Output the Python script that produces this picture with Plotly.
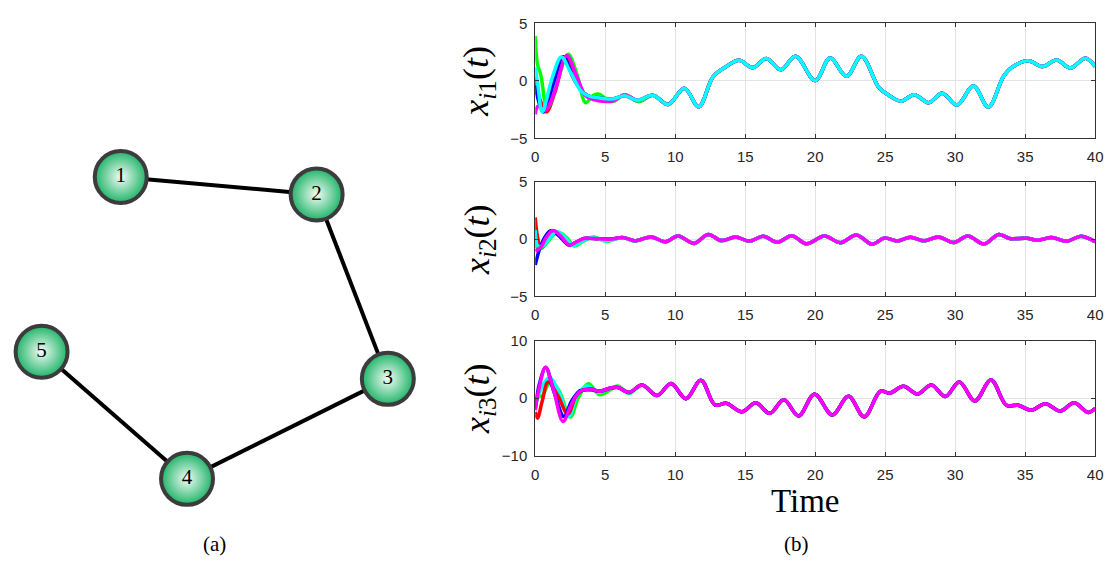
import plotly.graph_objects as go

# ---------------- network topology (panel a) ----------------
node_ids = ["1", "2", "3", "4", "5"]
node_x = [118, 316, 388, 185, 38]
node_y = [173, 191, 381, 484, 353]
edges = [(0, 1), (1, 2), (2, 3), (3, 4)]

# ---------------- state trajectories (panel b) ----------------
colors = {"red": "#ff0000", "green": "#00ff00", "blue": "#0000ff",
          "magenta": "#ff00ff", "cyan": "#00ffff"}

# x_i1 : transient part of each node
x1_head = {
    "red":     ([0, 0.3, 0.8, 1.4, 2.2, 2.9, 3.5, 4.1, 5.5, 6.4, 7.4],
                [0.3, -1.5, -2.7, -1.0, 2.1, 0.4, -1.1, -1.5, -1.75, -1.2, -1.8]),
    "green":   ([0, 0.15, 0.4, 0.85, 1.5, 2.35, 3.0, 3.6, 4.1, 4.5, 5.5, 6.4, 7.4],
                [3.9, 1.5, 0.5, -2.4, -0.4, 2.3, 0.5, -1.9, -1.3, -1.15, -1.8, -1.2, -1.8]),
    "blue":    ([0, 0.3, 0.6, 1.3, 2.0, 2.7, 3.4, 4.1],
                [-0.4, -2.0, -2.7, -0.2, 2.1, 0.3, -1.0, -1.45]),
    "magenta": ([0, 0.2, 0.7, 1.4, 2.25, 2.95, 3.6, 4.1, 5.5, 6.4],
                [-2.9, -2.2, -2.6, -0.9, 2.2, 0.4, -1.3, -1.6, -1.75, -1.22]),
    "cyan":    ([0, 0.2, 0.5, 1.2, 1.86, 2.5, 3.3, 3.9],
                [1.2, -0.5, -2.7, 0.2, 2.08, 0.8, -0.93, -1.35]),
}
# x_i1 : synchronised part
x1_tail_t = [4.45, 5.0, 5.6, 6.4, 7.3, 8.4, 9.5, 10.65, 11.68, 12.7, 13.6,
             14.56, 15.55, 16.5, 17.55, 18.6, 20.0, 21.06, 22.24, 23.3, 24.55,
             25.2, 26.13, 27.07, 28.1, 29.07, 30.13, 31.3, 32.37, 33.43, 34.0,
             35.2, 36.25, 37.24, 38.25, 39.3, 40.0]
x1_tail_y = [-1.45, -1.55, -1.55, -1.3, -1.7, -1.25, -2.05, -0.65, -2.25, 0.34,
             1.2, 1.78, 1.15, 1.95, 0.97, 2.13, 0.02, 1.98, 0.4, 2.13, -0.58,
             -1.2, -1.77, -1.2, -1.9, -1.07, -2.1, -0.45, -2.27, 0.34, 1.12,
             1.74, 1.24, 1.8, 1.12, 1.97, 1.26]

# x_i2 : transient part of each node
x2_head = {
    "red":     ([0, 0.15, 0.4, 0.8, 1.4, 1.9, 2.5, 3.1],
                [1.9, 0.3, -0.8, -0.3, 0.7, 0.2, -0.5, -0.2]),
    "green":   ([0, 0.2, 0.6, 1.6, 2.2, 2.8, 3.4, 4.2, 5.1, 5.8, 6.3],
                [0.4, -0.9, -0.6, 0.6, 0.2, -0.6, -0.2, 0.2, -0.2, 0.05, 0.14]),
    "blue":    ([0, 0.3, 0.7, 1.1, 1.7, 2.4, 3.0],
                [-2.25, -0.9, 0.2, 0.75, 0.3, -0.5, -0.2]),
    "cyan":    ([0, 0.2, 0.6, 1.5, 2.1, 2.7, 3.3, 4.1, 5.0, 5.8, 6.3],
                [0.8, -0.6, -0.5, 0.65, 0.2, -0.55, -0.2, 0.15, -0.15, 0.05, 0.14]),
    "magenta": ([0, 0.4, 0.8, 1.27, 1.8, 2.43, 3.0],
                [-1.05, -0.7, 0.2, 0.76, 0.3, -0.5, -0.2]),
}
x2_tail_t = [3.5, 4.5, 5.3, 6.3, 7.1, 8.3, 9.3, 10.2, 11.35, 12.35, 13.3, 14.3,
             15.3, 16.28, 17.3, 18.33, 19.37, 20.65, 21.8, 22.95, 24.05, 24.95,
             25.85, 26.8, 27.8, 28.8, 29.9, 30.9, 32.06, 33.1, 33.9, 35.1, 35.9,
             36.9, 37.95, 39.0, 40.0]
x2_tail_y = [0.06, 0.05, 0.0, 0.14, -0.14, 0.2, -0.23, 0.29, -0.37, 0.42, -0.12,
             0.2, -0.16, 0.25, -0.26, 0.3, -0.4, 0.28, -0.3, 0.38, -0.44, 0.1,
             -0.15, 0.17, -0.14, 0.2, -0.28, 0.28, -0.42, 0.42, 0.06, 0.08,
             -0.08, 0.14, -0.17, 0.25, -0.23]

# x_i3 : transient part of each node
x3_head = {
    "red":     ([0, 0.16, 0.5, 0.92, 1.6, 2.33, 2.9, 3.4, 4.0],
                [-2.4, -3.5, -0.5, 2.8, 0.5, -2.76, 0.3, 1.4, 1.4]),
    "green":   ([0, 0.25, 0.5, 1.1, 1.7, 2.5, 3.1, 3.8, 4.6, 5.4, 5.9, 6.7],
                [-1.5, 0.3, 0.4, 3.0, 1.3, -3.3, 0.2, 2.5, 0.6, 1.5, 2.1, 0.8]),
    "blue":    ([0, 0.3, 0.75, 1.35, 2.05, 2.6, 3.2],
                [-2.0, 2.5, 5.35, 1.0, -3.2, -0.5, 1.3]),
    "cyan":    ([0, 0.3, 1.0, 1.7, 2.4, 3.0, 3.7, 4.5, 5.3, 5.9, 6.7],
                [-1.8, 1.0, 3.6, 1.0, -3.2, 0.5, 2.1, 1.0, 1.7, 2.0, 0.9]),
    "magenta": ([0, 0.3, 0.73, 1.3, 1.98, 2.5, 2.85],
                [-2.1, 2.0, 5.4, 1.5, -4.06, -1.5, 0.17]),
}
x3_tail_t = [3.27, 3.97, 4.56, 5.4, 5.9, 6.7, 7.63, 8.7, 9.7, 10.77, 11.83,
             12.85, 13.64, 14.75, 15.76, 16.75, 17.76, 18.81, 19.95, 21.22,
             22.38, 23.5, 24.65, 25.35, 26.3, 27.3, 28.3, 29.3, 30.3, 31.4,
             32.56, 33.66, 34.5, 35.43, 36.44, 37.5, 38.5, 39.5, 40.0]
x3_tail_y = [1.3, 1.6, 1.2, 1.75, 1.86, 1.0, 2.3, 0.45, 2.53, -0.1, 3.12, -1.2,
             -0.9, -2.37, -0.8, -2.65, -0.28, -3.1, 0.68, -2.92, 0.31, -3.25,
             1.18, 0.9, 2.05, 0.73, 2.3, 0.28, 2.82, -0.5, 3.15, -1.24, -1.24,
             -2.1, -0.96, -2.25, -0.8, -2.48, -1.8]

panels = [
    ("x", "y", x1_head, x1_tail_t, x1_tail_y, ["red", "green", "blue", "magenta", "cyan"]),
    ("x2", "y2", x2_head, x2_tail_t, x2_tail_y, ["red", "green", "blue", "cyan", "magenta"]),
    ("x3", "y3", x3_head, x3_tail_t, x3_tail_y, ["green", "cyan", "red", "blue", "magenta"]),
]

fig = go.Figure()

for xa, ya, head, tail_t, tail_y, order in panels:
    for name in order:
        ht, hy = head[name]
        # join the node's own transient to the common trajectory
        t = list(ht) + [v for v in tail_t if v > ht[-1]]
        y = list(hy) + [tail_y[i] for i, v in enumerate(tail_t) if v > ht[-1]]
        fig.add_trace(go.Scatter(
            x=t, y=y, mode="lines", xaxis=xa, yaxis=ya,
            line=dict(color=colors[name], width=3.5, shape="spline", smoothing=1.0),
            showlegend=False, hoverinfo="skip"))

# network edges
for a, b in edges:
    fig.add_trace(go.Scatter(
        x=[node_x[a], node_x[b]], y=[node_y[a], node_y[b]], mode="lines",
        xaxis="x4", yaxis="y4", line=dict(color="black", width=4),
        showlegend=False, hoverinfo="skip"))

# network nodes
fig.add_trace(go.Scatter(
    x=node_x, y=node_y, mode="markers+text", xaxis="x4", yaxis="y4",
    text=node_ids, textposition="middle center",
    textfont=dict(family="Liberation Serif", size=21, color="black"),
    marker=dict(size=52, color="#1fb468",
                gradient=dict(type="radial", color="#f2fcf5"),
                line=dict(color="#3c3c3c", width=4)),
    showlegend=False, hoverinfo="skip"))

xdom = [0.47946, 0.98482]
ydoms = [[0.77096, 0.97474], [0.49141, 0.69364], [0.20962, 0.41289]]
yranges = [[-5, 5], [-5, 5], [-10, 10]]
ydticks = [5, 5, 10]

axis_common = dict(
    showline=True, linecolor="#333333", linewidth=1, mirror="ticks",
    ticks="inside", ticklen=4, tickcolor="#333333",
    showgrid=True, gridcolor="#e3e3e3", gridwidth=1, zeroline=False,
    tickfont=dict(family="Liberation Sans", size=15, color="#262626"),
)

layout = dict(
    width=1120, height=582, margin=dict(l=0, r=0, t=0, b=0),
    paper_bgcolor="white", plot_bgcolor="white", showlegend=False,
)
suffix = ["", "2", "3"]
for i in range(3):
    layout["xaxis" + suffix[i]] = dict(
        axis_common, domain=xdom, range=[0, 40], dtick=5, tick0=0,
        anchor="y" + suffix[i], ticklabelstandoff=5)
    layout["yaxis" + suffix[i]] = dict(
        axis_common, domain=ydoms[i], range=yranges[i], dtick=ydticks[i],
        tick0=0, anchor="x" + suffix[i], ticklabelstandoff=4)

layout["xaxis4"] = dict(domain=[0, 0.4], range=[0, 448], visible=False,
                        anchor="y4", fixedrange=True)
layout["yaxis4"] = dict(domain=[0, 1], range=[582, 0], visible=False,
                        anchor="x4", fixedrange=True)
fig.update_layout(**layout)

serif = "Liberation Serif"
ylabels = ["<i>x</i><sub><i>i</i>1</sub>(<i>t</i>)",
           "<i>x</i><sub><i>i</i>2</sub>(<i>t</i>)",
           "<i>x</i><sub><i>i</i>3</sub>(<i>t</i>)"]
for i in range(3):
    ymid = (ydoms[i][0] + ydoms[i][1]) / 2
    fig.add_annotation(text=ylabels[i], xref="paper", yref="paper",
                       x=480 / 1120, y=ymid, xanchor="center", yanchor="middle",
                       textangle=-90, showarrow=False,
                       font=dict(family=serif, size=36, color="black"))

fig.add_annotation(text="Time", xref="paper", yref="paper",
                   x=810 / 1120, y=1 - 507 / 582, xanchor="center", yanchor="middle",
                   showarrow=False, font=dict(family=serif, size=33, color="black"))
fig.add_annotation(text="(a)", xref="paper", yref="paper",
                   x=213 / 1120, y=1 - 551 / 582, xanchor="center", yanchor="middle",
                   showarrow=False, font=dict(family=serif, size=21, color="black"))
fig.add_annotation(text="(b)", xref="paper", yref="paper",
                   x=801 / 1120, y=1 - 551 / 582, xanchor="center", yanchor="middle",
                   showarrow=False, font=dict(family=serif, size=21, color="black"))

fig.write_html("out.html")
